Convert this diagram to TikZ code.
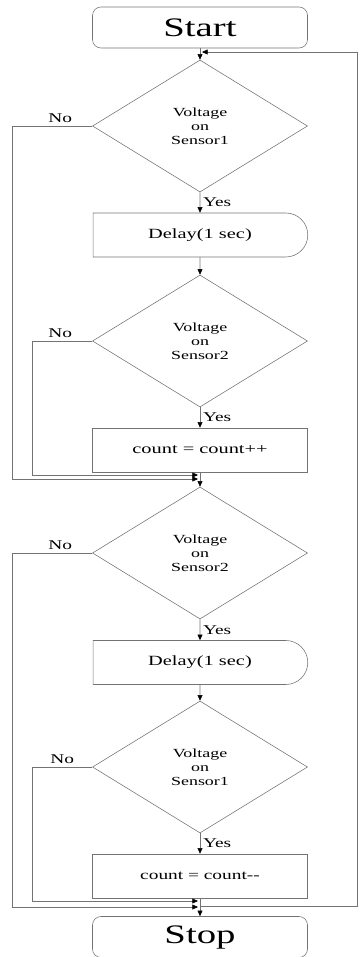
\documentclass[tikz,border=0pt]{standalone}
\usepackage{fontspec}
\setmainfont{Liberation Serif}[FakeStretch=1.45]
\usetikzlibrary{shapes.geometric,shapes.misc,arrows.meta}

\begin{document}
\begin{tikzpicture}[
    every node/.style={font=\fontsize{9.5}{11}\selectfont},
    term/.style={draw=black!55, rounded corners=6pt, minimum width=5.375cm, minimum height=1.025cm, font=\fontsize{19}{21}\selectfont},
    test/.style={draw=black!55, diamond, minimum width=5.375cm, minimum height=3.3cm, inner sep=0pt, align=center, font=\fontsize{8.8}{9.8}\selectfont},
    wait/.style={draw=black!55, rounded rectangle, rounded rectangle left arc=none, minimum width=5.6cm, minimum height=1.1cm, font=\fontsize{10}{12}\selectfont},
    proc/.style={draw=black!55, rectangle, minimum width=5.375cm, minimum height=1.1cm, font=\fontsize{10}{12}\selectfont},
    flow/.style={-{Triangle[length=4pt,width=3.5pt,color=black]}, black!55, thin},
    lbl/.style={text=black, font=\fontsize{9.5}{11}\selectfont, inner sep=2pt},
]
\useasboundingbox (0,0) rectangle (9,-23.925);

% main column
\node[term] (start) at (5,-0.6875) {Start};
\node[test] (s1a) at (5,-3.15) {Voltage\\on\\Sensor1};
\node[wait] (dl1) at (5,-5.875) {Delay(1 sec)};
\node[test] (s2a) at (5,-8.525) {Voltage\\on\\Sensor2};
\node[proc] (inc) at (5,-11.25) {count = count++};
\node[test] (s2b) at (5,-13.825) {Voltage\\on\\Sensor2};
\node[wait] (dl2) at (5,-16.5625) {Delay(1 sec)};
\node[test] (s1b) at (5,-19.175) {Voltage\\on\\Sensor1};
\node[proc, font=\fontsize{9.5}{11}\selectfont] (dec) at (5,-21.9) {count = count{-}{-}};
\node[term] (stop) at (5,-23.425) {Stop};

% junction points
\coordinate (ret) at (5.05,-1.3);
\coordinate (m1) at (4.95,-11.975);
\coordinate (m2) at (4.95,-11.875);
\coordinate (m3) at (4.95,-22.675);
\coordinate (m4) at (4.95,-22.525);
\coordinate (back) at (5,-22.65);
\coordinate (o1) at (0.3,-3.15);
\coordinate (o2) at (0.8,-8.525);
\coordinate (o3) at (0.3,-13.825);
\coordinate (o4) at (0.8,-19.175);
\coordinate (r1) at (8.925,-1.3);

\draw[flow] (start) -- (s1a);
\draw[flow] (s1a) -- node[lbl, right]{Yes} (dl1);
\draw[flow] (dl1) -- (s2a);
\draw[flow] (s2a) -- node[lbl, right]{Yes} (inc);
\draw[flow] (inc) -- (s2b);
\draw[flow] (s2b) -- node[lbl, right]{Yes} (dl2);
\draw[flow] (dl2) -- (s1b);
\draw[flow] (s1b) -- node[lbl, right]{Yes} (dec);
\draw[flow] (dec) -- (stop);

% no branches
\draw[flow] (s1a.west) -- node[lbl, above, pos=0.4]{No} (o1) |- (m1);
\draw[flow] (s2a.west) -- node[lbl, above, pos=0.53]{No} (o2) |- (m2);
\draw[flow] (s2b.west) -- node[lbl, above, pos=0.4]{No} (o3) |- (m3);
\draw[flow] (s1b.west) -- node[lbl, above, pos=0.5]{No} (o4) |- (m4);

% loop back to the top
\draw[flow] (back) -| (r1) -- (ret);
\end{tikzpicture}
\end{document}
